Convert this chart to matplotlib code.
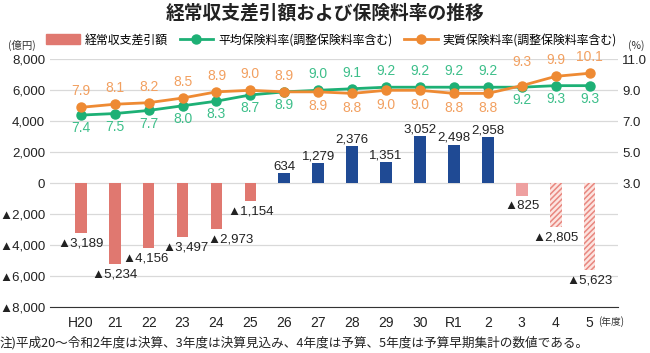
import numpy as np
import matplotlib
matplotlib.use('Agg')
import matplotlib.pyplot as plt
from matplotlib.patches import Patch
from matplotlib.lines import Line2D

plt.rcParams['font.family'] = ['Noto Sans CJK JP', 'DejaVu Sans']
plt.rcParams['hatch.linewidth'] = 1.1
NUM = ['Liberation Sans', 'DejaVu Sans']

years = ['H20', '21', '22', '23', '24', '25', '26', '27', '28', '29', '30', 'R1', '2', '3', '4', '5']
balance = [-3189, -5234, -4156, -3497, -2973, -1154, 634, 1279, 2376, 1351, 3052, 2498, 2958, -825, -2805, -5623]
avg_rate = [7.4, 7.5, 7.7, 8.0, 8.3, 8.7, 8.9, 9.0, 9.1, 9.2, 9.2, 9.2, 9.2, 9.2, 9.3, 9.3]
real_rate = [7.9, 8.1, 8.2, 8.5, 8.9, 9.0, 8.9, 8.9, 8.8, 9.0, 9.0, 8.8, 8.8, 9.3, 9.9, 10.1]

RED = '#E07870'
NAVY = '#1F4A94'
PINK = '#EEA0A0'
GREEN = '#1DB075'
ORANGE = '#EE8A33'
GREEN_T = '#3DBF8A'
ORANGE_T = '#F2A060'

fig = plt.figure(figsize=(6.5, 3.53), dpi=100)
ax = fig.add_axes([0.0769, 0.1295, 0.874, 0.7025])
x = np.arange(len(years))
w = 0.345

for i, v in enumerate(balance):
    if i == 13:
        ax.bar(i, v, width=w, color=PINK, zorder=3)
    elif i >= 14:
        ax.bar(i, v, width=w, facecolor='#FCE4E0', edgecolor='#E8877F',
               hatch='//////', linewidth=0, zorder=3)
    elif v < 0:
        ax.bar(i, v, width=w, color=RED, zorder=3)
    else:
        ax.bar(i, v, width=w, color=NAVY, zorder=3)

def fmt(v):
    return ('▲' if v < 0 else '') + f'{abs(v):,}'

# small sideways nudges (pt) so labels clear neighbouring bars
nudge = [0, 0, -2, 2, 10, 0, 0, 0, 0, 0, 0, 0, 0, 0, 0, 0]
for i, v in enumerate(balance):
    dy = -7.5 if v < 0 else 5
    ax.annotate(fmt(v), (i, v), xytext=(nudge[i], dy), textcoords='offset points',
                ha='center', va='center', fontsize=9.5, family=NUM,
                color='#222222', zorder=5)

ax.set_xlim(-0.908, 15.84)
ax.set_ylim(-8000, 8000)
ticks = list(range(-8000, 8001, 2000))
ax.set_yticks(ticks)
ax.set_yticklabels([fmt(t) for t in ticks], fontsize=9.5, family=NUM, color='#222222')
ax.set_xticks(x)
ax.set_xticklabels(years, fontsize=10, family=NUM, color='#222222')
ax.tick_params(axis='x', length=0, pad=6)
ax.tick_params(axis='y', length=0, pad=3.5)
ax.grid(axis='y', color='#D9D9D9', linewidth=0.9, zorder=0)
for s in ['top', 'right', 'left']:
    ax.spines[s].set_visible(False)
ax.spines['bottom'].set_color('#333333')
ax.spines['bottom'].set_zorder(6)

ax2 = ax.twinx()
ax2.set_ylim(-5, 11)
ax2.set_yticks([3, 5, 7, 9, 11])
ax2.set_yticklabels(['3.0', '5.0', '7.0', '9.0', '11.0'], fontsize=9.5, family=NUM, color='#222222')
ax2.tick_params(length=0, pad=3)
for s in ['top', 'right', 'left', 'bottom']:
    ax2.spines[s].set_visible(False)

ax2.plot(x, avg_rate, color=GREEN, marker='o', markersize=6.5, linewidth=2, zorder=4)
ax2.plot(x, real_rate, color=ORANGE, marker='o', markersize=6.5, linewidth=2, zorder=5)

for i in range(len(years)):
    g, o = avg_rate[i], real_rate[i]
    if i <= 6 or i >= 13:
        oy, gy = 11.5, -9.5
        if i == 13:
            oy = 17
    else:
        oy, gy = -10.5, 11.5
    ax2.annotate(f'{o:.1f}', (i, o), xytext=(0, oy), textcoords='offset points',
                 ha='center', va='center', fontsize=10, family=NUM, color=ORANGE_T, zorder=6)
    ax2.annotate(f'{g:.1f}', (i, g), xytext=(0, gy), textcoords='offset points',
                 ha='center', va='center', fontsize=10, family=NUM, color=GREEN_T, zorder=6)

fig.text(0.5, 0.962, '経常収支差引額および保険料率の推移', ha='center', va='center',
         fontsize=13.5, fontweight='bold', color='#222222')
fig.text(0.012, 0.872, '(億円)', fontsize=7.5, color='#333333', va='center')
fig.text(0.966, 0.872, '(%)', fontsize=7.5, color='#333333', va='center')
fig.text(0.92, 0.088, '(年度)', fontsize=7, color='#333333', va='center')
fig.text(0.0, 0.028, '注)平成20～令和2年度は決算、3年度は決算見込み、4年度は予算、5年度は予算早期集計の数値である。',
         fontsize=9.1, color='#222222', va='center')

handles = [Patch(color=RED),
           Line2D([], [], color=GREEN, marker='o', markersize=6.5, linewidth=2),
           Line2D([], [], color=ORANGE, marker='o', markersize=6.5, linewidth=2)]
labels = ['経常収支差引額', '平均保険料率(調整保険料率含む)', '実質保険料率(調整保険料率含む)']
fig.legend(handles, labels, loc='center', bbox_to_anchor=(0.51, 0.887), ncol=3,
           frameon=False, fontsize=8.6, handlelength=2.8, handleheight=0.9,
           columnspacing=1.0, handletextpad=0.4, borderpad=0)

fig.savefig('out.png', dpi=100)
